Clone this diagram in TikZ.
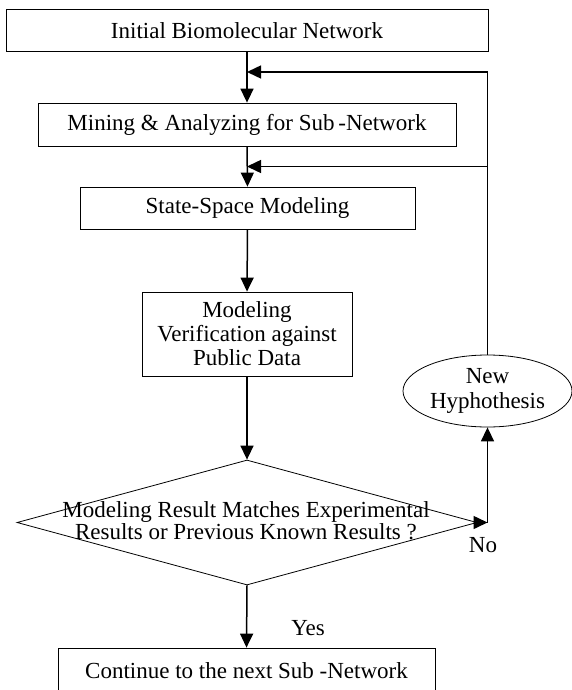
\documentclass[tikz,border=0pt]{standalone}
\usepackage{fontspec}
\setmainfont{Liberation Serif}
\usetikzlibrary{arrows.meta,shapes.geometric}
\tikzset{
  txt/.style={font=\fontsize{23pt}{24pt}\selectfont, inner sep=0pt, align=center},
  box/.style={txt, draw, line width=0.8pt},
  arr/.style={line width=1.5pt, -{Triangle[length=14pt,width=13pt]}},
  ln/.style={line width=1.5pt},
}
\begin{document}
\begin{tikzpicture}[x=1pt,y=-1pt]
\useasboundingbox (0,0) rectangle (572,690);
\begin{scope}
\clip (0,0) rectangle (572,690);
\node[box, minimum width=482pt, minimum height=42pt] (b1) at (247,30.5) {Initial Biomolecular Network};
\node[box, minimum width=418pt, minimum height=43pt] (b2) at (247,124.5) {Mining \& Analyzing for Sub\,-Network};
\node[box, minimum width=335pt, minimum height=42pt] (b3) at (247.5,208) {State-Space Modeling};
\node[box, minimum width=210pt, minimum height=84pt] (b4) at (247,334) {Modeling\\Verification against\\Public Data};
\node[draw, line width=0.8pt, diamond, aspect=3.68, minimum width=460pt, minimum height=125pt, inner sep=0pt] (dec) at (247,522.5) {};
\node[txt, font=\fontsize{23pt}{22pt}\selectfont] (dect) at (246,521) {Modeling Result Matches Experimental\\Results or Previous Known Results ?};
\node[box, minimum width=377pt, minimum height=46pt] (b5) at (246.5,671) {Continue to the next Sub -Network};
\node[txt, draw, line width=0.8pt, ellipse, minimum width=169pt, minimum height=72pt, font=\fontsize{23pt}{25pt}\selectfont] (hyp) at (487.5,391) {New\\Hyphothesis};
\coordinate (c1) at (487.5,72);
\coordinate (c2) at (487.5,166.5);
\coordinate (c3) at (487.5,522.5);
\node[txt] (yes) at (308,628) {Yes};
\node[txt] (no) at (483,545) {No};
\draw[arr] (b1.south) -- (b2.north);
\draw[arr] (b2.south) -- (b3.north);
\draw[arr] (b3.south) -- (b4.north);
\draw[arr] (b4.south) -- (dec.north);
\draw[arr] (dec.south) -- (b5.north);
\draw[arr] (dec.east) -- (c3);
\draw[arr] (c3) -- (hyp.south);
\draw[ln] (hyp.north) -- (c1);
\draw[arr] (c1) -- (c1 -| b1.south);
\draw[arr] (c2) -- (c2 -| b2.south);
\end{scope}
\end{tikzpicture}
\end{document}
